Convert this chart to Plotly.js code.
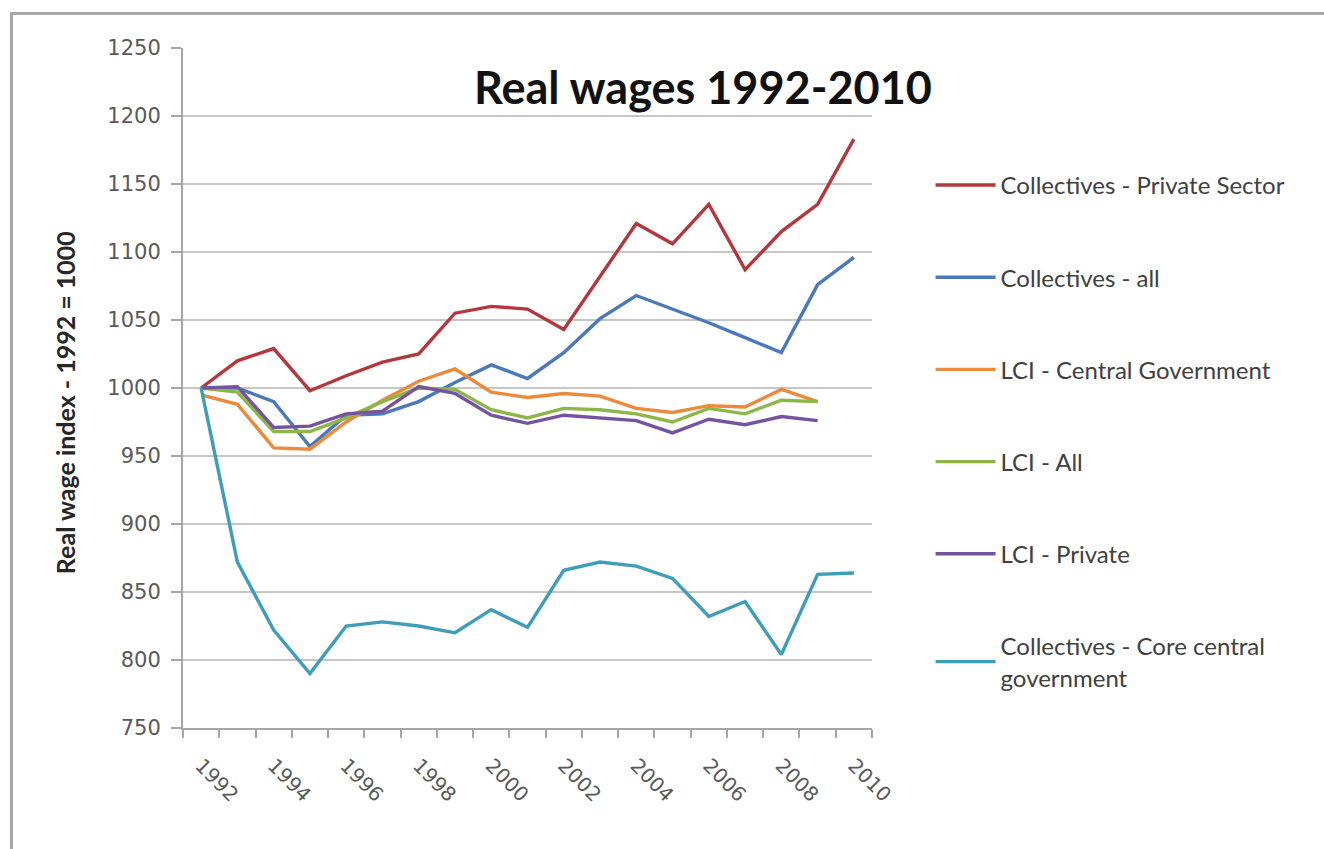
<!DOCTYPE html>
<html>
<head>
<meta charset="utf-8">
<script src="https://cdn.plot.ly/plotly-3.0.1.min.js"></script>
<style>
  html, body { margin: 0; padding: 0; background: #ffffff; }
  #wrap { position: relative; width: 1324px; height: 849px; overflow: hidden; }
  #chart { position: absolute; left: 0; top: 0; width: 1324px; height: 849px; }
  #frame { position: absolute; left: 10px; top: 12px; width: 1400px; height: 900px;
           border-left: 3px solid #a8a8a8; border-top: 3px solid #a8a8a8; pointer-events: none; }
</style>
</head>
<body>
<div id="wrap">
  <div id="chart"></div>
  <div id="frame"></div>
</div>
<script>
const years = [1992,1993,1994,1995,1996,1997,1998,1999,2000,2001,2002,2003,2004,2005,2006,2007,2008,2009,2010];

const collectivesPrivate = [1000,1020,1029,998,1009,1019,1025,1055,1060,1058,1043,1082,1121,1106,1135,1087,1115,1135,1183];
const collectivesAll     = [1000,1000,990,957,980,981,990,1004,1017,1007,1026,1051,1068,1058,1048,1037,1026,1076,1096];
const lciCentralGov      = [995,988,956,955,975,991,1005,1014,997,993,996,994,985,982,987,986,999,990];
const lciAll             = [1000,997,968,968,978,990,1000,999,984,978,985,984,981,975,985,981,991,990];
const lciPrivate         = [1000,1001,971,972,981,983,1001,996,980,974,980,978,976,967,977,973,979,976];
const collectivesCore    = [1000,872,822,790,825,828,825,820,837,824,866,872,869,860,832,843,804,863,864];

const seriesNames = [
  "Collectives - Private Sector",
  "Collectives - all",
  "LCI - Central Government",
  "LCI - All",
  "LCI - Private",
  "Collectives - Core central<br>government"
];
const seriesValues = [collectivesPrivate, collectivesAll, lciCentralGov, lciAll, lciPrivate, collectivesCore];
const seriesColors = ["#b2383d", "#4a78bb", "#ec8a3c", "#8cb647", "#7553a0", "#3e9db9"];

const traces = seriesValues.map((vals, i) => ({
  type: "scatter",
  mode: "lines",
  name: seriesNames[i],
  legendgroup: "g" + i,
  x: years.slice(0, vals.length),
  y: vals,
  line: { color: seriesColors[i], width: 3.4 },
  hoverinfo: "x+y+name"
}));

const tickFont = { family: "DejaVu Sans, Verdana, sans-serif", size: 20, color: "#595959" };

const layout = {
  width: 1324,
  height: 849,
  margin: { l: 183, r: 452, t: 48, b: 121 },
  paper_bgcolor: "#ffffff",
  plot_bgcolor: "#ffffff",
  showlegend: true,
  legend: {
    x: 1.085, xanchor: "left",
    y: 0.831, yanchor: "top",
    font: { family: "Lato, 'Open Sans', sans-serif", size: 24, color: "#404040" },
    traceorder: "grouped",
    tracegroupgap: 58,
    itemwidth: 60,
    bgcolor: "rgba(0,0,0,0)",
    borderwidth: 0
  },
  xaxis: {
    type: "linear",
    range: [1991.5, 2010.5],
    tickmode: "linear",
    tick0: 1992,
    dtick: 2,
    ticks: "",
    tickangle: 45,
    tickfont: tickFont,
    ticklabelstandoff: 16,
    showgrid: false,
    zeroline: false,
    showline: true,
    linecolor: "#a6a6a6",
    linewidth: 2,
    minor: {
      tickmode: "linear",
      tick0: 1991.5,
      dtick: 1,
      ticks: "outside",
      ticklen: 8,
      tickwidth: 2,
      tickcolor: "#a6a6a6",
      showgrid: false
    },
    fixedrange: true
  },
  yaxis: {
    range: [750, 1250],
    tickmode: "linear",
    tick0: 750,
    dtick: 50,
    ticks: "outside",
    ticklen: 10,
    tickwidth: 2,
    tickcolor: "#a6a6a6",
    tickfont: { family: "DejaVu Sans, Verdana, sans-serif", size: 21, color: "#595959" },
    ticklabelstandoff: 6,
    showgrid: true,
    gridcolor: "#c6c6c6",
    gridwidth: 2,
    zeroline: false,
    showline: true,
    linecolor: "#a6a6a6",
    linewidth: 2,
    fixedrange: true
  },
  annotations: [
    {
      text: "<b>Real wages 1992-2010</b>",
      xref: "paper", yref: "paper",
      x: 0.755, y: 0.943,
      xanchor: "center", yanchor: "middle",
      showarrow: false,
      font: { family: "Lato, 'Open Sans', sans-serif", size: 45, color: "#111111" }
    },
    {
      text: "<b>Real wage index - 1992 = 1000</b>",
      xref: "paper", yref: "paper",
      x: -0.171, y: 0.478,
      xanchor: "center", yanchor: "middle",
      textangle: -90,
      showarrow: false,
      font: { family: "Lato, 'Open Sans', sans-serif", size: 25, color: "#262626" }
    }
  ]
};

Plotly.newPlot("chart", traces, layout, { displayModeBar: false, staticPlot: true });
</script>
</body>
</html>
